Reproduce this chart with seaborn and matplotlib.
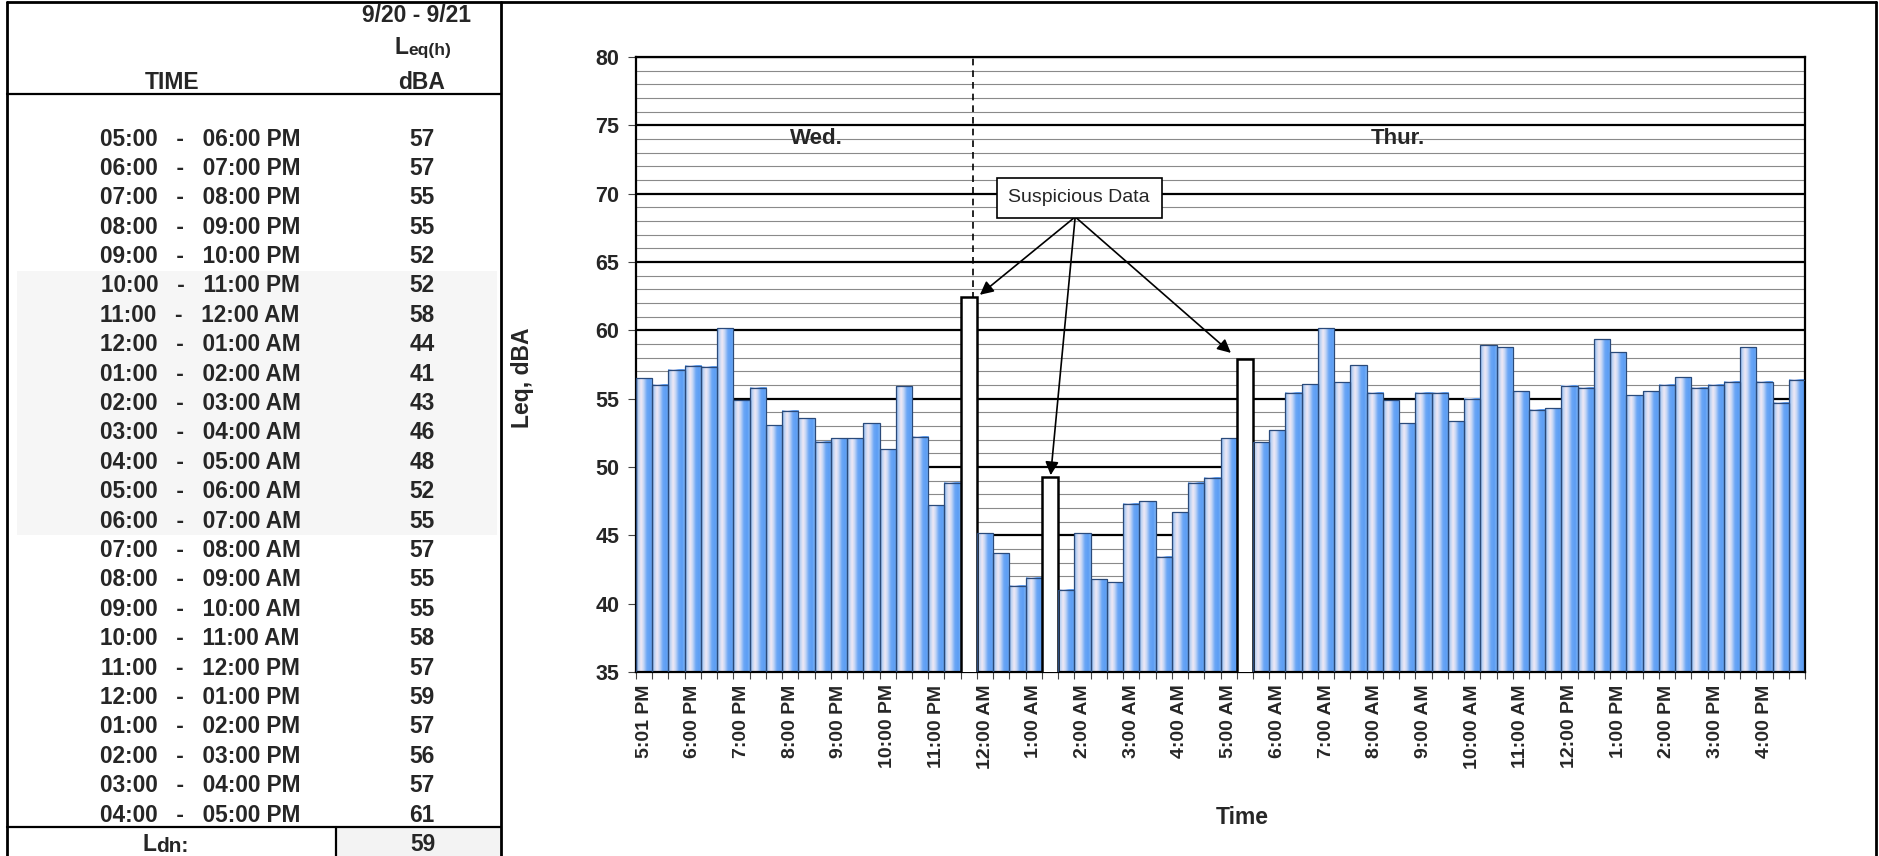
import numpy as np
import matplotlib
matplotlib.use("Agg")
from matplotlib import pyplot as plt
from matplotlib.colors import LinearSegmentedColormap
from matplotlib.lines import Line2D
from matplotlib.patches import Rectangle
from matplotlib.ticker import MultipleLocator, FixedLocator
import seaborn as sns

# 20-minute Leq readings, 5:01 PM Wed -> 4:41 PM Thur
leq = [56.5, 56.0, 57.1, 57.4, 57.35, 60.15, 54.9, 55.8, 53.05, 54.1,
       53.55, 51.85, 52.1, 52.1, 53.2, 51.3, 55.9, 52.2, 47.2, 48.85,
       62.45, 45.15, 43.7, 41.3, 41.9, 49.3, 41.0, 45.15, 41.8, 41.55,
       47.3, 47.5, 43.45, 46.7, 48.85, 49.2, 52.1, 57.9, 51.8, 52.7,
       55.45, 56.05, 60.15, 56.2, 57.45, 55.45, 54.9, 53.2, 55.45, 55.45,
       53.35, 55.0, 58.9, 58.75, 55.55, 54.2, 54.3, 55.95, 55.8, 59.35,
       58.4, 55.25, 55.55, 56.0, 56.55, 55.8, 56.0, 56.25, 58.75, 56.25,
       54.7, 56.4]
suspicious = [20, 25, 37]
tick_labels = ["5:01 PM", "6:00 PM", "7:00 PM", "8:00 PM", "9:00 PM", "10:00 PM",
               "11:00 PM", "12:00 AM", "1:00 AM", "2:00 AM", "3:00 AM", "4:00 AM",
               "5:00 AM", "6:00 AM", "7:00 AM", "8:00 AM", "9:00 AM", "10:00 AM",
               "11:00 AM", "12:00 PM", "1:00 PM", "2:00 PM", "3:00 PM", "4:00 PM"]

# hourly table
hours = ["05:00   -   06:00 PM", "06:00   -   07:00 PM", "07:00   -   08:00 PM",
         "08:00   -   09:00 PM", "09:00   -   10:00 PM", "10:00   -   11:00 PM",
         "11:00   -   12:00 AM", "12:00   -   01:00 AM", "01:00   -   02:00 AM",
         "02:00   -   03:00 AM", "03:00   -   04:00 AM", "04:00   -   05:00 AM",
         "05:00   -   06:00 AM", "06:00   -   07:00 AM", "07:00   -   08:00 AM",
         "08:00   -   09:00 AM", "09:00   -   10:00 AM", "10:00   -   11:00 AM",
         "11:00   -   12:00 PM", "12:00   -   01:00 PM", "01:00   -   02:00 PM",
         "02:00   -   03:00 PM", "03:00   -   04:00 PM", "04:00   -   05:00 PM"]
hour_leq = [57, 57, 55, 55, 52, 52, 58, 44, 41, 43, 46, 48,
            52, 55, 57, 55, 55, 58, 57, 59, 57, 56, 57, 61]
ldn = 59

sns.set_style("white")
plt.rcParams['font.family'] = ['Liberation Sans', 'DejaVu Sans']

W, H = 1879, 856
fig = plt.figure(figsize=(W / 100, H / 100), dpi=100)


def fx(x):
    return x / W


def fy(y):
    return 1 - y / H


def fline(x0, y0, x1, y1, lw=1.5):
    fig.add_artist(Line2D([fx(x0), fx(x1)], [fy(y0), fy(y1)], color='black', lw=lw))


# ---- table on the left ----
fig.add_artist(Rectangle((fx(17), fy(535)), fx(480), 264 / H, color='#f6f6f6', lw=0))
fig.add_artist(Rectangle((fx(336), fy(856)), fx(165), 29 / H, color='#f3f3f3', lw=0))
fline(7, 2, 7, 856, lw=2)
fline(7, 2, 1876, 2, lw=2)
fline(501, 2, 501, 856, lw=2)
fline(1876, 2, 1876, 856, lw=2)
fline(7, 94, 501, 94, lw=1.6)
fline(7, 827, 501, 827, lw=1.6)
fline(336, 827, 336, 856, lw=1.6)

hdr = dict(fontsize=16.5, fontweight='bold', ha='center', va='baseline')
fig.text(fx(417), fy(22), "9/20 - 9/21", **hdr)
fig.text(fx(395), fy(54), "L", fontsize=16.5, fontweight='bold', ha='left', va='baseline')
fig.text(fx(408), fy(55), "eq(h)", fontsize=12.5, fontweight='bold', ha='left', va='baseline')
fig.text(fx(172), fy(89), "TIME", **hdr)
fig.text(fx(422), fy(89), "dBA", **hdr)

row_y = np.linspace(139, 815, len(hours))
for yy, t, v in zip(row_y, hours, hour_leq):
    fig.text(fx(200), fy(yy), t, fontsize=16.3, fontweight='bold', ha='center', va='center')
    fig.text(fx(422), fy(yy), str(v), fontsize=16.3, fontweight='bold', ha='center', va='center')

fig.text(fx(143), fy(851), "L", fontsize=16.5, fontweight='bold', ha='left', va='baseline')
fig.text(fx(156), fy(852), "dn:", fontsize=15, fontweight='bold', ha='left', va='baseline')
fig.text(fx(423), fy(851), str(ldn), fontsize=16.3, fontweight='bold', ha='center', va='baseline')

# ---- bar chart ----
ax = fig.add_axes([fx(636), fy(672), 1169 / W, 615 / H])
ax.set_axisbelow(True)
sns.barplot(x=np.arange(len(leq)), y=leq, color='#6aa6f6', width=1.0,
            edgecolor='#2a4a7a', linewidth=0.9, ax=ax)

cmap = LinearSegmentedColormap.from_list('cyl', [
    (0.00, '#74abf2'), (0.12, '#b8d0f2'), (0.30, '#f0e9f5'), (0.45, '#c6d7f5'),
    (0.65, '#6aa6f6'), (0.85, '#5c9ef4'), (1.00, '#7fb6f8')])
grad = cmap(np.linspace(0, 1, 64))[np.newaxis, :, :3]

for i, p in enumerate(ax.patches):
    if i in suspicious:
        p.set_facecolor('white')
        p.set_edgecolor('black')
        p.set_linewidth(1.8)
        p.set_zorder(3)
    else:
        x0, w, h = p.get_x(), p.get_width(), p.get_height()
        ax.imshow(grad, extent=(x0, x0 + w, 0, h), aspect='auto', zorder=2,
                  interpolation='bilinear')
        p.set_facecolor('none')
        p.set_zorder(3)

ax.axvline(20.25, color='black', lw=1.2, ls=(0, (4, 3)), zorder=1)

ax.set_xlim(-0.5, len(leq) - 0.5)
ax.set_ylim(35, 80)
ax.yaxis.set_major_locator(MultipleLocator(5))
ax.yaxis.set_minor_locator(MultipleLocator(1))
ax.grid(which='major', axis='y', color='black', lw=1.6)
ax.grid(which='minor', axis='y', color='#8a8a8a', lw=0.8)
ax.grid(which='major', axis='x', visible=False)

ax.set_xticks(np.arange(0, len(leq), 3))
ax.set_xticklabels(tick_labels, rotation=90, fontsize=14, fontweight='bold')
ax.xaxis.set_minor_locator(FixedLocator(np.arange(-0.5, len(leq), 1)))
ax.tick_params(axis='x', which='major', length=0, pad=9)
ax.tick_params(axis='x', which='minor', length=5, width=0.8, color='#444444', direction='out', bottom=True)
ax.tick_params(axis='y', which='major', length=6, width=0.8, color='#444444', pad=6, left=True)
ax.tick_params(axis='y', which='minor', length=0)
for lab in ax.get_yticklabels():
    lab.set_fontsize(15.5)
    lab.set_fontweight('bold')

for s in ax.spines.values():
    s.set_visible(True)
    s.set_color('black')
    s.set_linewidth(1.6)

ax.set_ylabel("Leq, dBA", fontsize=16.5, fontweight='bold')
ax.yaxis.set_label_coords(-0.087, 0.478)
ax.set_xlabel("Time", fontsize=16.5, fontweight='bold')
ax.xaxis.set_label_coords(0.519, -0.218)

ax.text(10.6, 74, "Wed.", fontsize=16, fontweight='bold', ha='center', va='center')
ax.text(46.4, 74, "Thur.", fontsize=16, fontweight='bold', ha='center', va='center')

ax.text(26.8, 69.7, "Suspicious Data", fontsize=14, ha='center', va='center', zorder=6,
        bbox=dict(boxstyle='square,pad=0.6', fc='white', ec='black', lw=1.2))
for tip in [(20.68, 62.6), (25.04, 49.4), (36.14, 58.35)]:
    ax.annotate('', xy=tip, xytext=(26.55, 68.3), zorder=5,
                arrowprops=dict(arrowstyle='-|>', color='black', lw=1.2,
                                mutation_scale=20, shrinkA=0, shrinkB=0))

fig.savefig('out.png', dpi=100)
